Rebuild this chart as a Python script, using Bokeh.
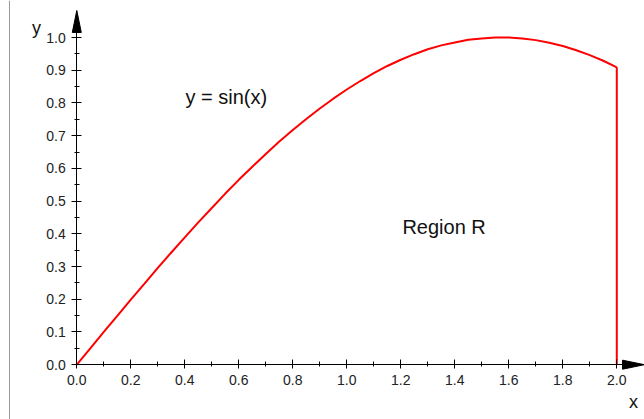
from bokeh.plotting import figure
from bokeh.models import Range1d, LinearAxis, FixedTicker, Label, Span, NumeralTickFormatter
from bokeh.embed import file_html
from bokeh.resources import INLINE

# curve y = sin(x)
curve_x = [0.00, 0.05, 0.10, 0.15, 0.20, 0.25, 0.30, 0.35, 0.40, 0.45, 0.50,
           0.55, 0.60, 0.65, 0.70, 0.75, 0.80, 0.85, 0.90, 0.95, 1.00,
           1.05, 1.10, 1.15, 1.20, 1.25, 1.30, 1.35, 1.40, 1.45, 1.50,
           1.55, 1.60, 1.65, 1.70, 1.75, 1.80, 1.85, 1.90, 1.95, 2.00]
curve_y = [0.000, 0.050, 0.100, 0.149, 0.199, 0.247, 0.296, 0.343, 0.389, 0.435, 0.479,
           0.523, 0.565, 0.605, 0.644, 0.682, 0.717, 0.751, 0.783, 0.813, 0.841,
           0.867, 0.891, 0.913, 0.932, 0.949, 0.964, 0.976, 0.985, 0.993, 0.997,
           1.000, 1.000, 0.997, 0.992, 0.984, 0.974, 0.961, 0.946, 0.929, 0.909]
# right edge of region R
edge_x = [2.0, 2.0]
edge_y = [0.909, 0.0]

x_ticks = [0.0, 0.2, 0.4, 0.6, 0.8, 1.0, 1.2, 1.4, 1.6, 1.8, 2.0]
x_minor = [0.1, 0.3, 0.5, 0.7, 0.9, 1.1, 1.3, 1.5, 1.7, 1.9]
y_ticks = [0.0, 0.1, 0.2, 0.3, 0.4, 0.5, 0.6, 0.7, 0.8, 0.9, 1.0]
y_minor = [0.05, 0.15, 0.25, 0.35, 0.45, 0.55, 0.65, 0.75, 0.85, 0.95]

FONT = "Liberation Sans"

p = figure(width=644, height=419, output_backend="svg", toolbar_location=None,
           x_range=Range1d(-0.2826, 2.1026), y_range=Range1d(-0.1675, 1.1131),
           x_axis_type=None, y_axis_type=None, min_border=0)
p.outline_line_color = None
p.background_fill_color = "white"
p.border_fill_color = "white"

# faint page edge line on the left
p.add_layout(Span(location=-0.2493, dimension="height", line_color="#9a9a9a", line_width=1))

def style_axis(ax):
    ax.axis_line_color = "black"
    ax.axis_line_width = 1
    ax.major_tick_line_color = "black"
    ax.minor_tick_line_color = "black"
    ax.major_label_text_font = FONT
    ax.major_label_text_font_size = "14px"
    ax.major_label_text_color = "#222222"
    ax.formatter = NumeralTickFormatter(format="0.0")

xaxis = LinearAxis(fixed_location=0, bounds=(0, 2.03),
                   ticker=FixedTicker(ticks=x_ticks, minor_ticks=x_minor))
style_axis(xaxis)
xaxis.major_tick_in = 5
xaxis.major_tick_out = 4
xaxis.minor_tick_in = 3
xaxis.minor_tick_out = 2
xaxis.major_label_standoff = 6
p.add_layout(xaxis, "below")

yaxis = LinearAxis(fixed_location=0, bounds=(0, 1.02),
                   ticker=FixedTicker(ticks=y_ticks, minor_ticks=y_minor))
style_axis(yaxis)
yaxis.major_tick_in = 5
yaxis.major_tick_out = 5
yaxis.minor_tick_in = 3
yaxis.minor_tick_out = 2
yaxis.major_label_standoff = 6
p.add_layout(yaxis, "left")

# arrow heads
p.patch(x=[-0.0167, 0.0167, 0.0], y=[1.0153, 1.0153, 1.0825], color="black", line_width=1)
p.patch(x=[2.0211, 2.0211, 2.1026], y=[-0.0138, 0.0138, 0.0], color="black", line_width=1)

# curve and right edge
p.line(curve_x, curve_y, line_color="#ff0000", line_width=2)
p.line(edge_x, edge_y, line_color="#ff0000", line_width=2)

# labels
p.add_layout(Label(x=0.4026, y=0.818, text="y = sin(x)", text_font=FONT, text_font_size="20px",
                   text_baseline="middle", text_align="left", text_color="#111111"))
p.add_layout(Label(x=1.2059, y=0.420, text="Region R", text_font=FONT, text_font_size="20px",
                   text_baseline="middle", text_align="left", text_color="#111111"))
p.add_layout(Label(x=-0.1493, y=1.030, text="y", text_font=FONT, text_font_size="18px",
                   text_baseline="middle", text_align="center", text_color="#111111"))
p.add_layout(Label(x=2.0619, y=-0.115, text="x", text_font=FONT, text_font_size="18px",
                   text_baseline="middle", text_align="center", text_color="#111111"))

open("out.html", "w").write(file_html(p, INLINE))
